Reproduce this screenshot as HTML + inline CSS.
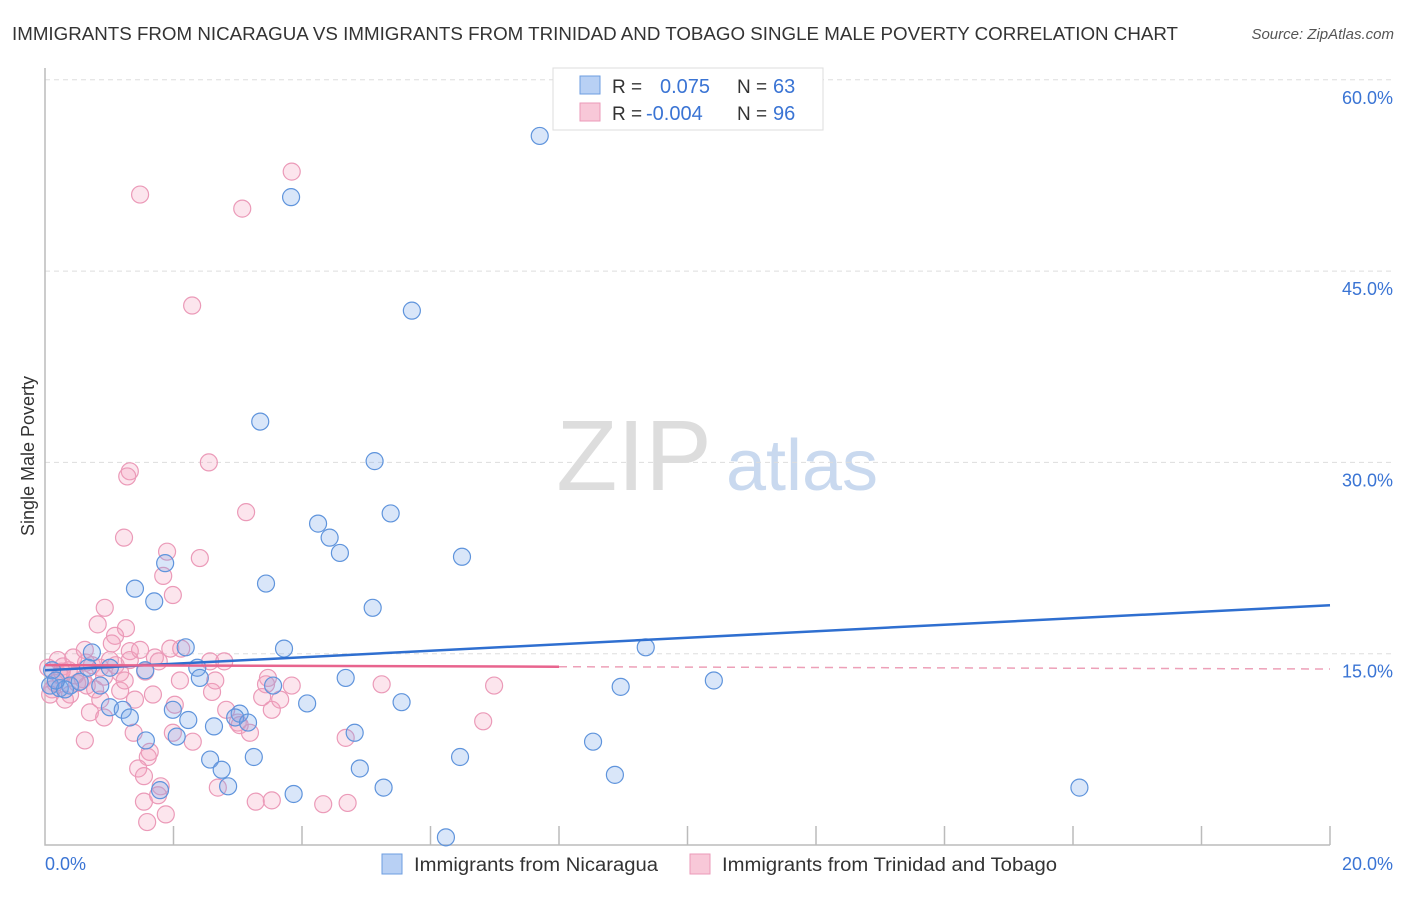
<!DOCTYPE html>
<html><head><meta charset="utf-8"><style>
body{margin:0;background:#fff;font-family:"Liberation Sans",sans-serif}
svg text{font-family:"Liberation Sans",sans-serif}
</style></head><body>
<svg id="chart" width="1406" height="892" xmlns="http://www.w3.org/2000/svg">
<text x="12" y="40" font-size="18" fill="#333" textLength="1166" lengthAdjust="spacingAndGlyphs">IMMIGRANTS FROM NICARAGUA VS IMMIGRANTS FROM TRINIDAD AND TOBAGO SINGLE MALE POVERTY CORRELATION CHART</text>
<text x="1394" y="39" font-size="15" fill="#555" text-anchor="end" font-style="italic">Source: ZipAtlas.com</text>
<text x="34" y="456" font-size="18" fill="#333" text-anchor="middle" transform="rotate(-90 34 456)">Single Male Poverty</text>
<g>
<text x="634" y="490" font-size="100" fill="#ddd" text-anchor="middle" font-family="Liberation Serif,serif">ZIP</text>
<text x="802" y="490" font-size="72" fill="#c9d9ef" text-anchor="middle">atlas</text>
</g>
<g id="grid"></g><g id="axes"></g><g id="pinkpts"></g><g id="bluepts"></g><g id="trends"></g>
<g>
<rect x="553" y="68" width="270" height="62" fill="#fff" stroke="#ddd"/>
<rect x="580" y="76" width="20" height="18" fill="#b8d0f4" stroke="#6d9ee0"/>
<rect x="580" y="103" width="20" height="18" fill="#f8c8d8" stroke="#eb9ab8"/>
<text x="612" y="93" font-size="19" fill="#333">R = </text><text x="660" y="93" font-size="20" fill="#3a74d4">0.075</text>
<text x="737" y="93" font-size="19" fill="#333">N = </text><text x="773" y="93" font-size="20" fill="#3a74d4">63</text>
<text x="612" y="120" font-size="19" fill="#333">R = </text><text x="646" y="120" font-size="20" fill="#3a74d4">-0.004</text>
<text x="737" y="120" font-size="19" fill="#333">N = </text><text x="773" y="120" font-size="20" fill="#3a74d4">96</text>
</g>
<g>
<rect x="382" y="854" width="20" height="20" fill="#b8d0f4" stroke="#6d9ee0"/>
<text x="414" y="871" font-size="19" fill="#333" textLength="244" lengthAdjust="spacingAndGlyphs">Immigrants from Nicaragua</text>
<rect x="690" y="854" width="20" height="20" fill="#f8c8d8" stroke="#eb9ab8"/>
<text x="722" y="871" font-size="19" fill="#333" textLength="335" lengthAdjust="spacingAndGlyphs">Immigrants from Trinidad and Tobago</text>
</g>
</svg>
<script>
const yTicks=[15,30,45,60];
const yTickLabels=["15.0%","30.0%","45.0%","60.0%"];
const xTickLabels=["0.0%","20.0%"];
const blueX=[7.70,3.83,5.71,3.35,5.13,5.38,4.25,4.43,4.59,6.49,1.87,3.44,1.40,1.70,5.10,9.35,3.72,2.19,0.73,2.37,1.56,1.01,0.67,0.11,4.68,8.96,10.41,0.08,0.23,0.39,0.86,2.41,4.08,5.55,3.55,1.01,1.21,1.32,1.99,2.23,3.03,2.96,3.16,2.63,2.05,4.82,1.57,8.53,2.57,3.25,6.46,2.75,4.90,8.87,2.85,5.27,1.79,3.87,16.10,6.24,0.31,0.54,0.17];
const blueY=[55.6,50.8,41.9,33.2,30.1,26.0,25.2,24.1,22.9,22.6,22.1,20.5,20.1,19.1,18.6,15.5,15.4,15.5,15.1,13.9,13.7,13.9,13.9,13.7,13.1,12.4,12.9,12.5,12.3,12.5,12.5,13.1,11.1,11.2,12.5,10.8,10.6,10.0,10.6,9.8,10.3,10.0,9.6,9.3,8.5,8.8,8.2,8.1,6.7,6.9,6.9,5.9,6.0,5.5,4.6,4.5,4.3,4.0,4.5,0.6,12.2,12.8,12.9];
const pinkX=[3.84,1.48,3.07,2.29,2.55,1.32,1.28,3.13,1.23,1.90,2.41,1.84,1.99,0.93,0.82,1.26,1.09,1.04,1.32,1.95,2.12,1.71,1.77,2.57,2.79,0.64,0.20,0.44,0.28,0.05,0.37,0.73,0.86,1.10,1.17,1.56,0.92,0.59,0.50,3.47,3.44,3.84,5.24,6.99,3.38,2.60,1.17,1.68,0.65,0.11,0.39,0.70,0.92,2.82,3.53,3.00,1.38,1.99,2.30,3.19,0.62,4.68,6.82,1.63,1.60,1.45,1.54,2.69,1.80,1.76,1.54,3.28,3.53,4.33,4.71,1.88,1.59,0.23,0.47,0.16,0.78,1.01,1.24,1.40,0.31,0.08,0.62,0.26,0.86,2.02,2.10,2.65,3.66,3.03,1.32,1.48];
const pinkY=[52.8,51.0,49.9,42.3,30.0,29.3,28.9,26.1,24.1,23.0,22.5,21.1,19.6,18.6,17.3,17.0,16.4,15.8,15.2,15.4,15.4,14.7,14.4,14.4,14.4,14.3,14.5,14.7,14.0,13.9,13.7,14.1,13.9,14.1,13.5,13.6,13.2,13.0,12.7,13.1,12.6,12.5,12.6,12.5,11.6,12.0,12.1,11.8,12.5,12.2,11.8,10.4,10.0,10.6,10.6,9.6,8.8,8.8,8.1,8.8,8.2,8.4,9.7,7.3,6.9,6.0,5.4,4.5,4.6,3.9,3.4,3.4,3.5,3.2,3.3,2.4,1.8,13.3,13.3,12.7,12.2,14.5,12.9,11.4,11.4,11.8,15.3,13.6,11.4,11.0,12.9,12.9,11.4,9.4,14.5,15.3];
const blueTrend=[13.7,18.8];
const pinkTrend=[14.1,13.8];
const pinkSolidEnd=8.0;
const NS="http://www.w3.org/2000/svg";
const X0=45,X1=1330,YB=845,PX=191.3/15;
const sx=v=>X0+(X1-X0)*v/20, sy=v=>YB-v*PX;
function mk(t,a,p){const e=document.createElementNS(NS,t);for(const k in a)e.setAttribute(k,a[k]);p.appendChild(e);return e;}
const grid=document.getElementById('grid'),axes=document.getElementById('axes');
yTicks.forEach((t,i)=>{
 const l=mk('line',{x1:X0,x2:1394,y1:sy(t),y2:sy(t),stroke:'#ddd','stroke-dasharray':'5,4'},grid);
 
 
 const tx=mk('text',{x:1393,y:sy(t)+24,'font-size':18,fill:'#3a74d4','text-anchor':'end'},axes);
 tx.textContent=yTickLabels[i];
 
 
});
const ax=mk('path',{d:`M${X0} 68V${YB}H${X1}`,stroke:'#bbb',fill:'none','stroke-width':1.5},axes);


for(let i=1;i<=10;i++){const t=mk('line',{x1:sx(i*2),x2:sx(i*2),y1:826,y2:YB,stroke:'#bbb','stroke-width':1.5},axes);
 
 }
[[0,'start',X0],[20,'end',1393]].forEach((d,i)=>{const t=mk('text',{x:d[2],y:870,'font-size':18,fill:'#3a74d4','text-anchor':d[1]},axes);t.textContent=xTickLabels[i];
 
 });
function pts(xs,ys,g,fill,stroke,name){xs.forEach((x,i)=>{const c=mk('circle',{cx:sx(x),cy:sy(ys[i]),r:8.5,fill:fill,stroke:stroke,'stroke-width':1.2},g);
 
 });}
pts(pinkX,pinkY,document.getElementById('pinkpts'),'rgba(244,160,190,0.28)','#eb9ab8','point-trinidad');
pts(blueX,blueY,document.getElementById('bluepts'),'rgba(120,165,235,0.28)','#5f94dc','point-nicaragua');
const tr=document.getElementById('trends');
const bl=mk('line',{x1:sx(0),y1:sy(blueTrend[0]),x2:sx(20),y2:sy(blueTrend[1]),stroke:'#2f6fd0','stroke-width':2.5},tr);


const pm=pinkTrend[0]+(pinkTrend[1]-pinkTrend[0])*pinkSolidEnd/20;
const pl=mk('line',{x1:sx(0),y1:sy(pinkTrend[0]),x2:sx(pinkSolidEnd),y2:sy(pm),stroke:'#e8648e','stroke-width':2.5},tr);


const pd=mk('line',{x1:sx(pinkSolidEnd),y1:sy(pm),x2:sx(20),y2:sy(pinkTrend[1]),stroke:'#eda0b8','stroke-width':1.5,'stroke-dasharray':'8,6'},tr);


</script>
</body></html>
